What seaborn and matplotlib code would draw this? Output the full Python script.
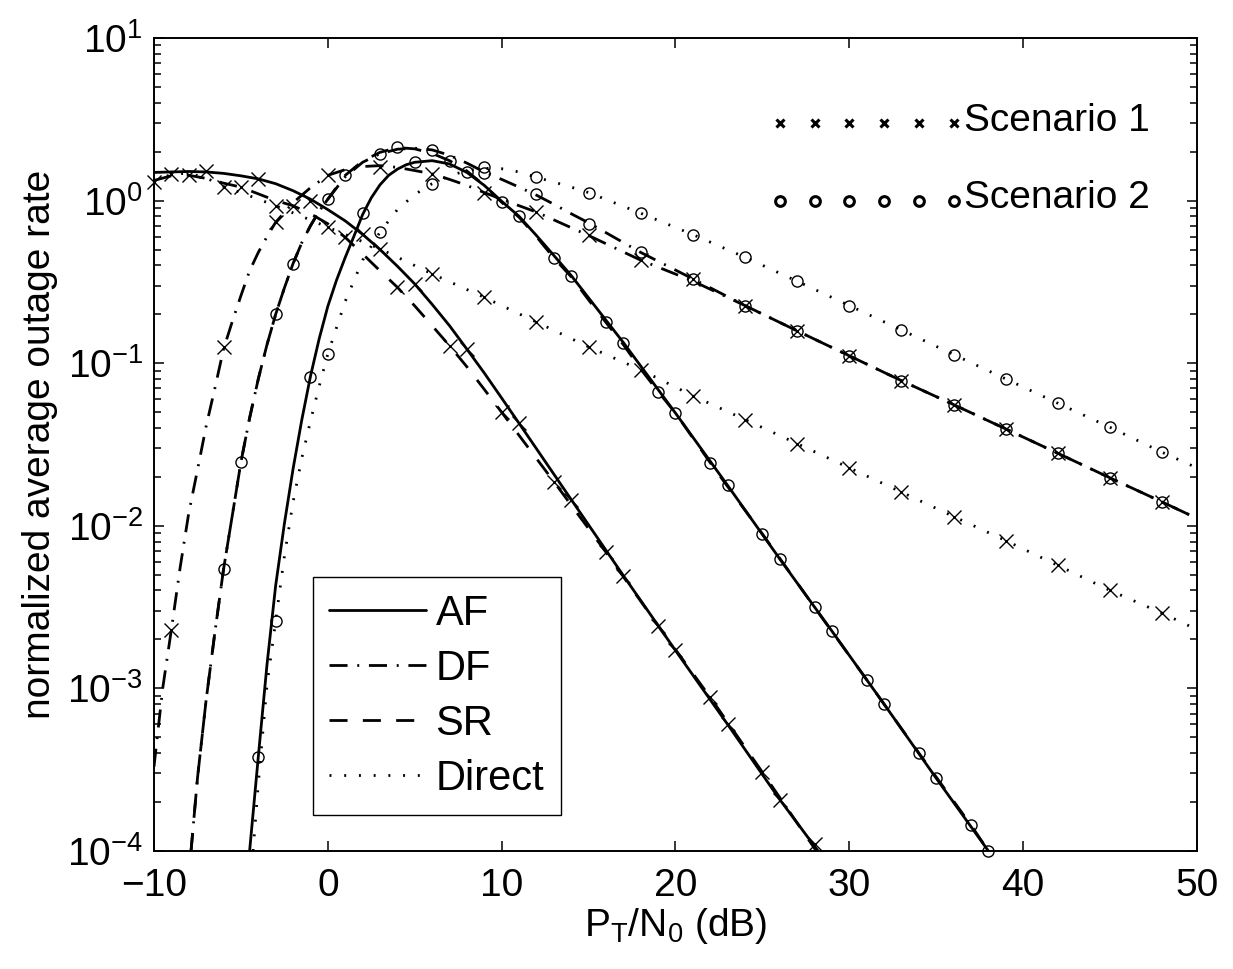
import numpy as np
import matplotlib
matplotlib.use("Agg")
import matplotlib.pyplot as plt
from matplotlib.lines import Line2D
from matplotlib.ticker import LogLocator, NullLocator
import seaborn as sns

# ---- values ----
# Scenario 1 (x markers)
af1_x = [-10, -9, -8, -7, -6, -5, -4, -3, -2, -1, 0, 1, 2, 3, 4, 5, 6, 7, 8, 9, 10, 11, 14, 17, 20, 23, 26, 28.2]
af1_y = [1.49, 1.50, 1.51, 1.50, 1.47, 1.42, 1.36, 1.27, 1.15, 1.02, 0.88, 0.75, 0.62, 0.50, 0.395, 0.307,
         0.23, 0.17, 0.122, 0.087, 0.061, 0.0427, 0.0145, 4.94e-3, 1.71e-3, 6.0e-4, 2.07e-4, 1.0e-4]
af1_mx = [-10, -7, -4, -1, 2, 5, 8, 11, 14, 17, 20, 23, 26]
af1_my = [1.30, 1.51, 1.36, 1.0, 0.62, 0.307, 0.122, 0.0427, 0.0145, 4.94e-3, 1.71e-3, 6.0e-4, 2.07e-4]

sr1_x = [-10, -9, -8, -7, -6, -5, -4, -3, -2, -1, 0, 1, 2, 3, 4, 5, 6, 7, 8, 9, 10, 13, 16, 19, 22, 25, 28.1]
sr1_y = [1.33, 1.42, 1.43, 1.37, 1.28, 1.21, 1.10, 1.0, 0.93, 0.83, 0.72, 0.594, 0.47, 0.37, 0.293, 0.225,
         0.17, 0.128, 0.095, 0.069, 0.0499, 0.0187, 6.88e-3, 2.43e-3, 8.8e-4, 3.05e-4, 1.0e-4]
sr1_mx = [-8, -5, -2, 1, 4, 7, 10, 13, 16, 19, 22, 25, 28]
sr1_my = [1.43, 1.21, 0.93, 0.594, 0.293, 0.128, 0.0499, 0.0187, 6.88e-3, 2.43e-3, 8.8e-4, 3.05e-4, 1.1e-4]

df1_x = [-10, -9.5, -9, -8.5, -8, -7.5, -7, -6.5, -6, -5.5, -5, -4.5, -4, -3.5, -3, -2, -1, 0, 1, 2, 3, 4,
         5, 6, 7, 8, 9, 10, 11, 12, 15, 18, 21, 24, 27, 30, 33, 36, 39, 42, 45, 48, 50]
df1_y = [3.3e-4, 1.0e-3, 2.3e-3, 5.5e-3, 0.012, 0.022, 0.041, 0.07, 0.122, 0.18, 0.26, 0.37, 0.48, 0.60,
         0.736, 0.97, 1.2, 1.43, 1.55, 1.62, 1.64, 1.60, 1.53, 1.46, 1.35, 1.24, 1.12, 1.02, 0.93, 0.85,
         0.61, 0.43, 0.32, 0.226, 0.158, 0.111, 0.078, 0.0556, 0.0394, 0.0279, 0.0197, 0.0140, 0.0111]
df1_mx = [-9, -6, -3, 0, 3, 6, 9, 12, 15, 18, 21, 24, 27, 30, 33, 36, 39, 42, 45, 48]
df1_my = [2.3e-3, 0.125, 0.736, 1.43, 1.62, 1.46, 1.12, 0.85, 0.61, 0.43, 0.33, 0.226, 0.158, 0.111,
          0.078, 0.0556, 0.0394, 0.0279, 0.0197, 0.0140]

dir1_x = [-10, -9, -8, -7, -6, -5, -4, -3, -2, -1, 0, 3, 6, 9, 12, 15, 18, 21, 24, 27, 30, 33, 36, 39,
          42, 45, 48, 50]
dir1_y = [1.28, 1.46, 1.47, 1.38, 1.22, 1.12, 1.02, 0.93, 0.84, 0.76, 0.685, 0.505, 0.354, 0.254, 0.179,
          0.126, 0.091, 0.063, 0.045, 0.032, 0.0227, 0.0161, 0.0114, 0.0081, 0.0057, 0.0040, 0.0029, 0.0023]
dir1_mx = [-9, -6, -3, 0, 3, 6, 9, 12, 15, 18, 21, 24, 27, 30, 33, 36, 39, 42, 45, 48]
dir1_my = [1.46, 1.21, 0.93, 0.685, 0.505, 0.354, 0.254, 0.179, 0.126, 0.091, 0.063, 0.045, 0.032,
           0.0227, 0.0161, 0.0114, 0.0081, 0.0057, 0.0040, 0.0029]

# Scenario 2 (o markers)
af2_x = [-4.5, -4, -3.5, -3, -2.5, -2, -1.5, -1, -0.5, 0, 0.5, 1, 1.5, 2, 2.5, 3, 3.5, 4, 4.5, 5, 6, 7,
         8, 9, 10, 11, 12, 13, 14, 17, 20, 23, 26, 29, 32, 35, 38]
af2_y = [1.0e-4, 3.8e-4, 1.4e-3, 4.3e-3, 0.0103, 0.0224, 0.0447, 0.083, 0.141, 0.224, 0.324, 0.447,
         0.603, 0.82, 1.04, 1.25, 1.43, 1.56, 1.66, 1.72, 1.76, 1.68, 1.49, 1.24, 0.99, 0.80, 0.61, 0.46,
         0.346, 0.134, 0.0493, 0.0177, 6.25e-3, 2.25e-3, 8.0e-4, 2.8e-4, 1.0e-4]
af2_mx = [-4, -1, 2, 5, 8, 11, 14, 17, 20, 23, 26, 29, 32, 35, 38]
af2_my = [3.8e-4, 0.082, 0.836, 1.72, 1.49, 0.80, 0.346, 0.134, 0.0493, 0.0177, 6.25e-3, 2.25e-3,
          8.0e-4, 2.8e-4, 1.0e-4]

sr2_x = [-7.87, -7.5, -7, -6.5, -6, -5.5, -5, -4.5, -4, -3.5, -3, -2.5, -2, -1.5, -1, -0.5, 0, 1, 2, 3,
         4, 5, 6, 7, 8, 9, 10, 11, 12, 13, 14, 15, 16, 17, 18, 19, 20, 22, 25, 28, 31, 34, 37, 38]
sr2_y = [1.0e-4, 2.8e-4, 8.5e-4, 2.2e-3, 5.4e-3, 0.0115, 0.0246, 0.046, 0.08, 0.13, 0.20, 0.29, 0.41,
         0.55, 0.70, 0.86, 1.02, 1.43, 1.75, 1.98, 2.12, 2.08, 1.95, 1.76, 1.52, 1.24, 0.976, 0.79, 0.60,
         0.444, 0.34, 0.245, 0.178, 0.13, 0.092, 0.0669, 0.0493, 0.0244, 8.9e-3, 3.15e-3, 1.13e-3,
         4.0e-4, 1.44e-4, 1.0e-4]
sr2_mx = [-5, -2, 1, 4, 7, 10, 13, 16, 19, 22, 25, 28, 31, 34, 37]
sr2_my = [0.0246, 0.41, 1.43, 2.13, 1.76, 0.976, 0.444, 0.178, 0.0669, 0.0244, 8.9e-3, 3.15e-3,
          1.13e-3, 4.0e-4, 1.44e-4]

df2_x = [-7.87, -7.5, -7, -6.5, -6, -5.5, -5, -4.5, -4, -3.5, -3, -2.5, -2, -1.5, -1, -0.5, 0, 1, 2, 3,
         4, 5, 6, 7, 8, 9, 10, 11, 12, 13, 14, 15, 18, 21, 24, 27, 30, 33, 36, 39, 42, 45, 48, 50]
df2_y = [1.0e-4, 2.8e-4, 8.5e-4, 2.2e-3, 5.4e-3, 0.0115, 0.0246, 0.046, 0.08, 0.13, 0.20, 0.29, 0.41,
         0.55, 0.70, 0.86, 1.02, 1.40, 1.72, 1.94, 2.07, 2.10, 2.05, 1.90, 1.70, 1.50, 1.35, 1.21, 1.08,
         0.95, 0.83, 0.73, 0.48, 0.33, 0.226, 0.158, 0.111, 0.078, 0.0556, 0.0394, 0.0279, 0.0197,
         0.0140, 0.0111]
df2_mx = [-6, -3, 0, 3, 6, 9, 12, 15, 18, 21, 24, 27, 30, 33, 36, 39, 42, 45, 48]
df2_my = [5.4e-3, 0.201, 1.02, 1.94, 2.05, 1.47, 1.10, 0.72, 0.48, 0.33, 0.226, 0.158, 0.111, 0.078,
          0.0556, 0.0394, 0.0279, 0.0197, 0.0140]

dir2_x = [-4.3, -4, -3.5, -3, -2.5, -2, -1.5, -1, -0.5, 0, 1, 2, 3, 4, 5, 6, 7, 8, 9, 10, 11, 12, 13, 14,
          15, 18, 21, 24, 27, 30, 33, 36, 39, 42, 45, 48, 50]
dir2_y = [1.0e-4, 2.6e-4, 1.05e-3, 2.6e-3, 6.5e-3, 0.014, 0.026, 0.044, 0.072, 0.114, 0.24, 0.43, 0.64,
          0.88, 1.09, 1.27, 1.42, 1.53, 1.58, 1.57, 1.50, 1.39, 1.30, 1.21, 1.12, 0.836, 0.618, 0.448,
          0.319, 0.226, 0.160, 0.113, 0.080, 0.0567, 0.0403, 0.0283, 0.0227]
dir2_mx = [-3, 0, 3, 6, 9, 12, 15, 18, 21, 24, 27, 30, 33, 36, 39, 42, 45, 48]
dir2_my = [2.6e-3, 0.114, 0.64, 1.27, 1.60, 1.39, 1.12, 0.836, 0.618, 0.448, 0.319, 0.226, 0.160,
           0.113, 0.080, 0.0567, 0.0403, 0.0283]

# in-plot scenario key
key_x = [26, 28, 30, 32, 34, 36]
key_labels = ["Scenario 1", "Scenario 2"]
key_y = [3.0, 1.0]

schemes = ["AF", "DF", "SR", "Direct"]

# ---- plotting ----
sns.set_style("ticks")
plt.rcParams["font.family"] = ["Liberation Sans", "DejaVu Sans"]
plt.rcParams["mathtext.default"] = "regular"
plt.rcParams["text.color"] = "k"
plt.rcParams["axes.labelcolor"] = "k"
plt.rcParams["xtick.color"] = "k"
plt.rcParams["ytick.color"] = "k"

LW = 2.0
FS = 28
styles = {
    "AF": "-",
    "DF": (0, (6.5, 3.5, 0.7, 3.5)),
    "SR": (0, (6.5, 5.5)),
    "Direct": (0, (0.7, 4.6)),
}

fig = plt.figure(figsize=(12.33, 9.69), dpi=100)
ax = fig.add_axes([0.1249, 0.1218, 0.8459, 0.8390])
ax.set_yscale("log")


def curve(x, y, ls):
    sns.lineplot(x=x, y=y, ax=ax, color="k", lw=LW, linestyle=ls,
                 estimator=None, sort=False)


def marks(x, y, m, ms=9, mew=1.0, clip=False):
    sns.lineplot(x=x, y=y, ax=ax, color="k", linestyle="none", marker=m,
                 markersize=ms, markeredgewidth=mew, markeredgecolor="k",
                 markerfacecolor="none", estimator=None, sort=False, clip_on=clip)


curve(af1_x, af1_y, styles["AF"])
curve(sr1_x, sr1_y, styles["SR"])
curve(df1_x, df1_y, styles["DF"])
curve(dir1_x, dir1_y, styles["Direct"])
curve(af2_x, af2_y, styles["AF"])
curve(sr2_x, sr2_y, styles["SR"])
curve(df2_x, df2_y, styles["DF"])
curve(dir2_x, dir2_y, styles["Direct"])

for mx, my in [(af1_mx, af1_my), (sr1_mx, sr1_my), (df1_mx, df1_my), (dir1_mx, dir1_my)]:
    marks(mx, my, "x", ms=9.5)
for mx, my in [(af2_mx, af2_my), (sr2_mx, sr2_my), (df2_mx, df2_my), (dir2_mx, dir2_my)]:
    marks(mx, my, "o", ms=8)

# scenario key drawn inside the axes
marks(key_x, [key_y[0]] * len(key_x), "x", ms=6, mew=2.2, clip=True)
marks(key_x, [key_y[1]] * len(key_x), "o", ms=7, mew=2.2, clip=True)
for lab, yy in zip(key_labels, key_y):
    ax.text(36.6, yy * 1.03, lab, fontsize=FS, va="center", ha="left", color="k")

ax.set_xlim(-10, 50)
ax.set_ylim(1e-4, 1e1)
ax.set_xticks(range(-10, 51, 10))
ax.xaxis.set_minor_locator(NullLocator())
ax.yaxis.set_major_locator(LogLocator(base=10, numticks=10))
ax.yaxis.set_minor_locator(LogLocator(base=10, subs=np.arange(2, 10), numticks=20))
ax.tick_params(which="both", direction="in", top=True, right=True, width=1.1,
               colors="k", labelsize=FS)
ax.tick_params(which="major", length=7.5)
ax.tick_params(which="minor", length=4.8)
ax.tick_params(axis="x", pad=12)
ax.tick_params(axis="y", pad=8)
for s in ax.spines.values():
    s.set_linewidth(1.4)
    s.set_color("k")

ax.set_xlabel("$P_T/N_0$ (dB)", fontsize=FS, labelpad=2, color="k")
ax.set_ylabel("normalized average outage rate", fontsize=FS, color="k")
ax.yaxis.set_label_coords(-0.092, 0.5)

handles = [Line2D([], [], color="k", lw=LW, linestyle=styles[s]) for s in schemes]
leg = ax.legend(handles, schemes, loc="lower left", bbox_to_anchor=(0.152, 0.044),
                fontsize=30, frameon=True, fancybox=False, framealpha=1,
                edgecolor="k", borderaxespad=0, handlelength=2.33,
                handletextpad=0.22, labelspacing=0.36, borderpad=0.40)
leg.get_frame().set_linewidth(1.0)
for t in leg.get_texts():
    t.set_color("k")

fig.savefig("out.png", dpi=100)
